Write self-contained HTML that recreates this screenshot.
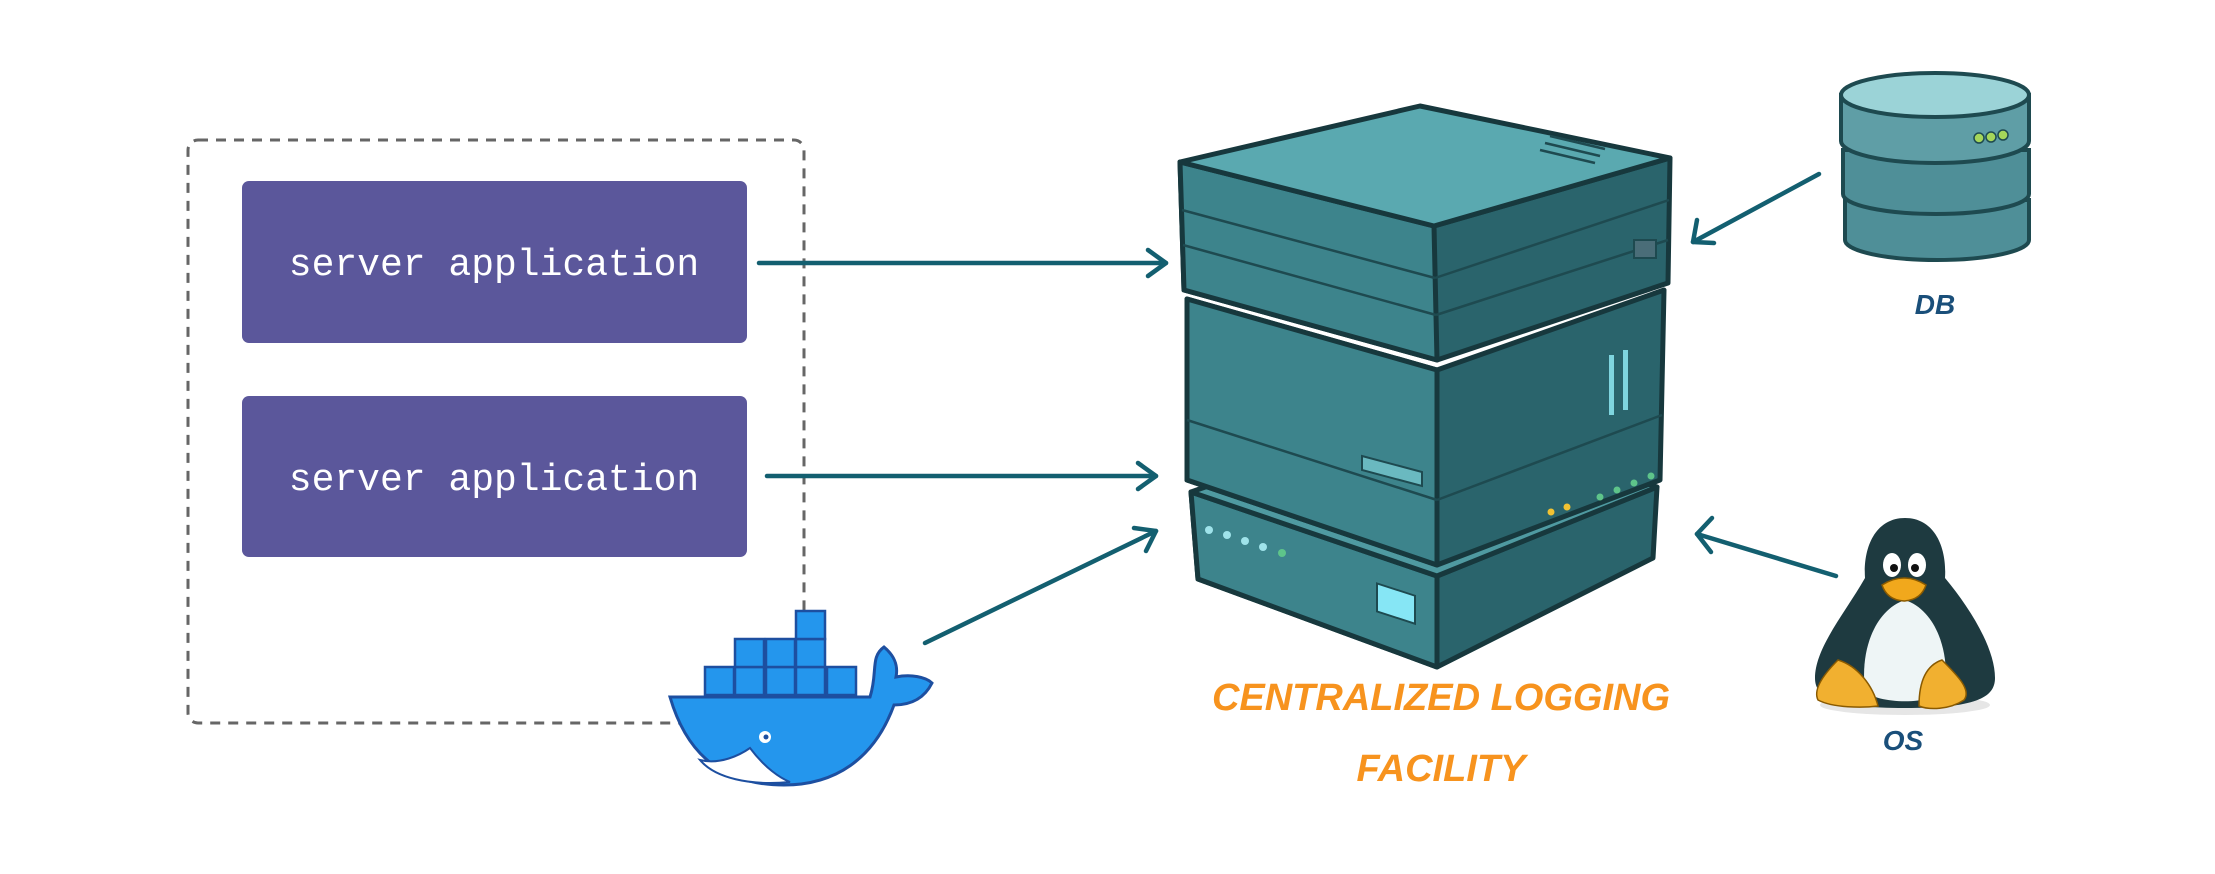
<!DOCTYPE html>
<html><head><meta charset="utf-8"><style>
html,body{margin:0;padding:0;background:#fff;}
body{width:2215px;height:874px;overflow:hidden;position:relative;}
svg{position:absolute;left:0;top:0;}
</style></head><body>
<svg width="2215" height="874" viewBox="0 0 2215 874" xmlns="http://www.w3.org/2000/svg">
<defs>
<marker id="ah" viewBox="0 0 20 20" refX="17" refY="10" markerWidth="7" markerHeight="7" orient="auto" markerUnits="userSpaceOnUse" >
</marker>
</defs>
<!-- dashed container -->
<rect x="188" y="140" width="616" height="583" rx="10" fill="none" stroke="#666" stroke-width="3" stroke-dasharray="10,8"/>
<!-- boxes -->
<rect x="242" y="181" width="505" height="162" rx="7" fill="#5b579b"/>
<rect x="242" y="396" width="505" height="161" rx="7" fill="#5b579b"/>
<text x="494" y="275" text-anchor="middle" font-family="Liberation Mono, monospace" font-size="38" fill="#fff">server application</text>
<text x="494" y="490" text-anchor="middle" font-family="Liberation Mono, monospace" font-size="38" fill="#fff">server application</text>

<!-- arrows -->
<g stroke="#135f70" stroke-width="4.5" fill="none" stroke-linecap="round" stroke-linejoin="round">
<line x1="759" y1="263" x2="1166" y2="263"/><polyline points="1148,250 1166,263 1148,276"/>
<line x1="767" y1="476" x2="1156" y2="476"/><polyline points="1138,463 1156,476 1138,489"/>
<line x1="925" y1="643" x2="1156" y2="531"/><polyline points="1134,528 1156,531 1146,551"/>
<line x1="1819" y1="174" x2="1693" y2="242"/><polyline points="1697,220 1693,242 1714,243"/>
<line x1="1836" y1="576" x2="1697" y2="534"/><polyline points="1712,518 1697,534 1711,552"/>
</g>

<!-- server -->
<g stroke="#17383d" stroke-width="5" stroke-linejoin="round">
<!-- bottom block -->
<polygon points="1191,492 1437,576 1657,487 1653,558 1437,667 1198,579" fill="#2a646c"/>
<polygon points="1191,492 1437,576 1437,667 1198,579" fill="#3d848c"/>
<polygon points="1191,492 1425,410 1657,487 1437,576" fill="#4f9aa1"/>
<!-- middle block -->
<polygon points="1187,299 1437,370 1664,290 1660,480 1437,565 1187,480" fill="#2a646c"/>
<polygon points="1187,299 1437,370 1437,565 1187,480" fill="#3d848c"/>
<!-- top block -->
<polygon points="1180,162 1434,226 1670,158 1668,283 1437,360 1184,290" fill="#2a646c"/>
<polygon points="1180,162 1434,226 1437,360 1184,290" fill="#3d848c"/>
<polygon points="1180,162 1420,106 1670,158 1434,226" fill="#5aa9b0"/>
</g>
<g stroke="#1e4a50" stroke-width="2.5" fill="none">
<line x1="1182" y1="210" x2="1435" y2="278"/><line x1="1435" y1="278" x2="1669" y2="200"/>
<line x1="1183" y1="245" x2="1436" y2="315"/><line x1="1436" y1="315" x2="1668" y2="240"/>
<line x1="1187" y1="420" x2="1437" y2="500"/><line x1="1437" y1="500" x2="1662" y2="415"/>
<line x1="1540" y1="150" x2="1595" y2="163"/><line x1="1545" y1="143" x2="1600" y2="156"/><line x1="1550" y1="136" x2="1605" y2="149"/>
</g>
<rect x="1634" y="240" width="22" height="18" fill="#4a6d78" stroke="#1e4a50" stroke-width="2"/>
<rect x="1609" y="355" width="5" height="60" fill="#7fd5df"/><rect x="1623" y="350" width="5" height="60" fill="#7fd5df"/>
<polygon points="1362,456 1422,472 1422,486 1362,470" fill="#6ab9c0" stroke="#1e4a50" stroke-width="2"/>
<g fill="#5ec48a"><circle cx="1600" cy="497" r="3.5"/><circle cx="1617" cy="490" r="3.5"/><circle cx="1634" cy="483" r="3.5"/><circle cx="1651" cy="476" r="3.5"/></g>
<g fill="#f1c232"><circle cx="1551" cy="512" r="3.5"/><circle cx="1567" cy="507" r="3.5"/></g>
<g fill="#9fe3ea"><circle cx="1209" cy="530" r="4"/><circle cx="1227" cy="535" r="4"/><circle cx="1245" cy="541" r="4"/><circle cx="1263" cy="547" r="4"/></g>
<circle cx="1282" cy="553" r="4" fill="#5ec48a"/>
<rect x="1377" y="586" width="38" height="28" fill="#86e6f5" stroke="#1e4a50" stroke-width="2" transform="skewY(18) translate(0,-450)"/>

<!-- DB cylinder -->
<g stroke="#1e4a50" stroke-width="4">
<path d="M1845,200 v40 a92,20 0 0 0 184,0 v-40 z" fill="#4f8f98"/>
<path d="M1843,150 v44 a93,20 0 0 0 186,0 v-44 z" fill="#4f8f98"/>
<path d="M1841,95 v46 a94,22 0 0 0 188,0 v-46 z" fill="#5f9ea6"/>
<ellipse cx="1935" cy="95" rx="94" ry="22" fill="#9bd3d7"/>
</g>
<g fill="#a5d65a" stroke="#1e4a50" stroke-width="1.5"><circle cx="1979" cy="138" r="5"/><circle cx="1991" cy="137" r="5"/><circle cx="2003" cy="135" r="5"/></g>
<text x="1935" y="314" text-anchor="middle" font-family="Liberation Sans, sans-serif" font-weight="bold" font-style="italic" font-size="28" fill="#1a4f7a">DB</text>

<!-- penguin -->
<ellipse cx="1905" cy="705" rx="85" ry="10" fill="#e6e6e6"/>
<path d="M1905,518 c-30,0 -42,30 -40,60 c-20,35 -50,70 -50,100 c0,20 20,30 90,30 c70,0 90,-10 90,-30 c0,-30 -25,-70 -50,-100 c2,-30 -10,-60 -40,-60z" fill="#1e3a40"/>
<path d="M1905,600 c-30,10 -45,50 -40,90 c10,15 70,15 80,0 c5,-40 -10,-80 -40,-90z" fill="#eef5f6"/>
<ellipse cx="1892" cy="565" rx="9" ry="12" fill="#fff"/><ellipse cx="1917" cy="565" rx="9" ry="12" fill="#fff"/>
<circle cx="1894" cy="568" r="4" fill="#111"/><circle cx="1915" cy="568" r="4" fill="#111"/>
<path d="M1882,585 q22,-14 44,0 q-5,15 -22,16 q-17,-1 -22,-16z" fill="#f1a81c" stroke="#8a5a00" stroke-width="1.5"/>
<path d="M1838,660 c-15,15 -25,30 -20,40 c15,8 45,8 60,6 c-5,-20 -20,-40 -40,-46z" fill="#f1b030" stroke="#8a5a00" stroke-width="1.5"/>
<path d="M1942,660 c15,15 30,30 22,40 c-15,10 -35,10 -45,6 c0,-20 5,-40 23,-46z" fill="#f1b030" stroke="#8a5a00" stroke-width="1.5"/>
<text x="1903" y="750" text-anchor="middle" font-family="Liberation Sans, sans-serif" font-weight="bold" font-style="italic" font-size="28" fill="#1a4f7a">OS</text>

<!-- docker whale -->
<g stroke="#1d4fa0" stroke-width="3" fill="#2496ed">
<path d="M690,697 L870,697 c8,-25 0,-40 14,-50 c12,10 14,20 12,30 c15,-3 30,0 36,6 c-8,16 -22,22 -38,22 c-20,55 -60,80 -110,80 c-70,0 -100,-40 -114,-88z"/>
<g stroke-width="2.5">
<rect x="705" y="667" width="29" height="28"/><rect x="735" y="667" width="29" height="28"/><rect x="766" y="667" width="29" height="28"/><rect x="796" y="667" width="29" height="28"/><rect x="827" y="667" width="29" height="28"/>
<rect x="735" y="639" width="29" height="28"/><rect x="766" y="639" width="29" height="28"/><rect x="796" y="639" width="29" height="28"/>
<rect x="796" y="611" width="29" height="28"/>
</g>
</g>
<path d="M700,760 c20,5 40,-5 50,-12 c15,20 30,30 40,34 c-40,4 -75,-4 -90,-22z" fill="#fff" stroke="#1d4fa0" stroke-width="2"/>
<circle cx="765" cy="737" r="6" fill="#fff"/><circle cx="766" cy="737" r="2.5" fill="#1d4fa0"/>

<!-- orange label -->
<text x="1441" y="710" text-anchor="middle" font-family="Liberation Sans, sans-serif" font-weight="bold" font-style="italic" font-size="38" fill="#f7931e">CENTRALIZED LOGGING</text>
<text x="1441" y="781" text-anchor="middle" font-family="Liberation Sans, sans-serif" font-weight="bold" font-style="italic" font-size="38" fill="#f7931e">FACILITY</text>
</svg>
</body></html>
